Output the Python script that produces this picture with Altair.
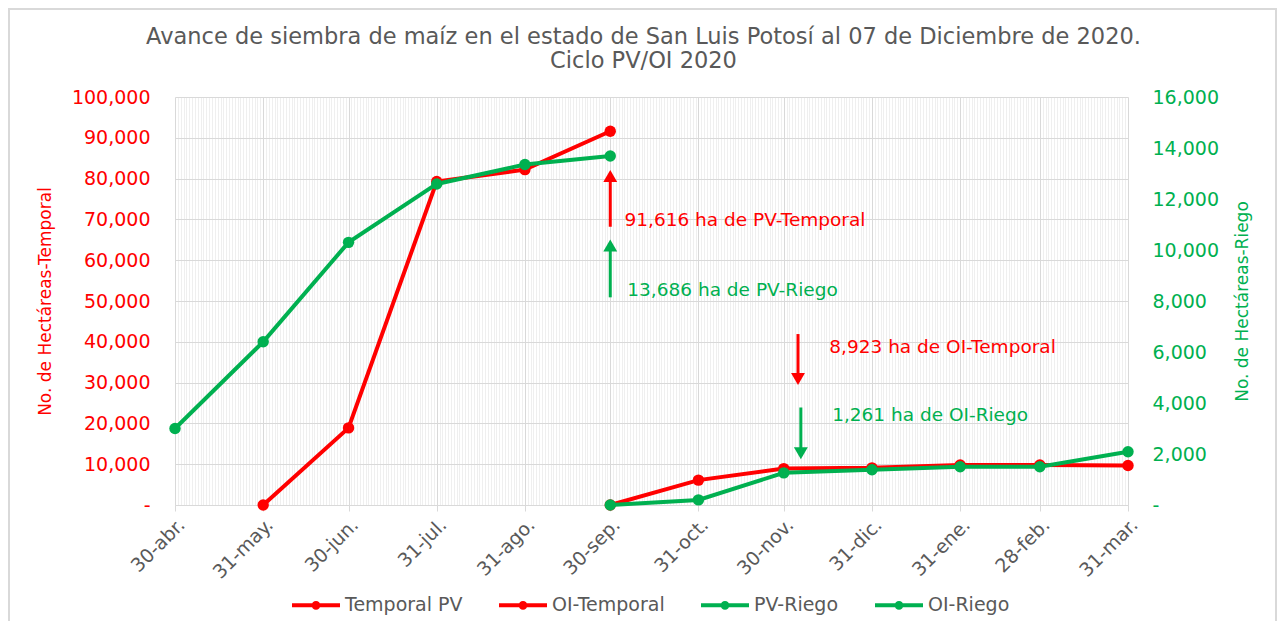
import altair as alt
import pandas as pd

RED = "#ff0000"
GREEN = "#00b050"
GRAY_TXT = "#595959"
FONT = "DejaVu Sans"

# ---------------- data ----------------
dates = ["2020-04-30", "2020-05-31", "2020-06-30", "2020-07-31", "2020-08-31", "2020-09-30",
         "2020-10-31", "2020-11-30", "2020-12-31", "2021-01-31", "2021-02-28", "2021-03-31"]
temporal_pv = [None, 0, 18900, 79300, 82200, 91616, None, None, None, None, None, None]
oi_temporal = [None, None, None, None, None, 0, 6100, 8923, 9100, 9800, 9800, 9700]
pv_riego = [3000, 6400, 10300, 12590, 13350, 13686, None, None, None, None, None, None]
oi_riego = [None, None, None, None, None, 0, 200, 1261, 1380, 1500, 1500, 2090]

series_names = ["Temporal PV", "OI-Temporal", "PV-Riego", "OI-Riego"]
series_colors = [RED, RED, GREEN, GREEN]

# annotations (left-axis units)
arrow_dates = ["2020-09-30", "2020-09-30", "2020-12-05", "2020-12-06"]
arrow_from = [68200, 50900, 41900, 23900]
arrow_to = [82100, 65100, 29400, 11200]
arrow_colors = [RED, GREEN, RED, GREEN]

note_dates = ["2020-10-05", "2020-10-06", "2020-12-16", "2020-12-17"]
note_values = [69900, 52700, 38700, 22100]
note_texts = ["91,616 ha de PV-Temporal", "13,686 ha de PV-Riego",
              "8,923 ha de OI-Temporal", "1,261 ha de OI-Riego"]
note_colors = [RED, GREEN, RED, GREEN]

month_abbr = ["ene.", "feb.", "mar.", "abr.", "may.", "jun.", "jul.", "ago.", "sep.", "oct.", "nov.", "dic."]

# ---------------- tables ----------------
rows = []
for name, vals in zip(series_names, [temporal_pv, oi_temporal, pv_riego, oi_riego]):
    for d, v in zip(dates, vals):
        if v is not None:
            rows.append({"date": d, "value": v, "serie": name})
df = pd.DataFrame(rows)
df_left = df[df["serie"].isin(["Temporal PV", "OI-Temporal"])]
df_right = df[df["serie"].isin(["PV-Riego", "OI-Riego"])]

arrow_rows = []
for d, a, b, c in zip(arrow_dates, arrow_from, arrow_to, arrow_colors):
    up = b > a
    shaft_end = b - 1500 if up else b + 1500
    arrow_rows.append({
        "date": d, "value": a, "value2": shaft_end, "tip": b, "c": c,
        "shape": "M0,0L0.58,1L-0.58,1Z" if up else "M0,0L0.58,-1L-0.58,-1Z",
    })
df_arrows = pd.DataFrame(arrow_rows)
df_notes = pd.DataFrame({"date": note_dates, "value": note_values, "label": note_texts, "c": note_colors})

# ---------------- axes / scales ----------------
MONTH_END = "utcdate(time(datum.value) + 86400000) == 1"
label_expr = (
    MONTH_END + " ? utcdate(datum.value) + '-' + "
    + "[" + ",".join("'%s'" % m for m in month_abbr) + "][utcmonth(datum.value)] : ''"
)
num_expr = "datum.value == 0 ? '-' : format(datum.value, ',')"

x_scale = alt.Scale(type="utc",
                    domain=[alt.DateTime(year=2020, month=4, date=30, utc=True),
                            alt.DateTime(year=2021, month=3, date=31, utc=True)])
x_axis = alt.Axis(
    title=None,
    tickCount={"interval": "day", "step": 1},
    grid=True,
    gridColor={"condition": {"test": MONTH_END, "value": "#d9d9d9"}, "value": "#efefef"},
    gridWidth=1,
    ticks=True,
    tickColor="#d9d9d9",
    tickOpacity={"condition": {"test": MONTH_END, "value": 1}, "value": 0},
    tickSize=6,
    domainColor="#d9d9d9",
    labelExpr=label_expr,
    labelAngle=-45,
    labelFontSize=19,
    labelColor=GRAY_TXT,
    labelOverlap=False,
    labelFlush=False,
    labelBound=False,
    labelPadding=4,
)

left_scale = alt.Scale(domain=[0, 100000])
left_axis = alt.Axis(
    title="No. de Hectáreas-Temporal",
    titleColor=RED, titleFontSize=17, titleFontWeight="normal", titlePadding=17,
    labelColor=RED, labelFontSize=19, labelPadding=25,
    labelExpr=num_expr,
    values=[0, 10000, 20000, 30000, 40000, 50000, 60000, 70000, 80000, 90000, 100000],
    grid=True, gridColor="#d9d9d9", ticks=False, domain=False,
)
right_scale = alt.Scale(domain=[0, 16000])
right_axis = alt.Axis(
    orient="right",
    title="No. de Hectáreas-Riego",
    titleColor=GREEN, titleFontSize=17, titleFontWeight="normal", titlePadding=16,
    titleAngle=270, titleBaseline="top",
    labelColor=GREEN, labelFontSize=19, labelPadding=24,
    labelExpr=num_expr,
    values=[0, 2000, 4000, 6000, 8000, 10000, 12000, 14000, 16000],
    grid=False, ticks=False, domain=False,
)

LEG_SYMBOL = "M-1,0L1,0M0.1,0A0.1,0.1 0 1 1 -0.1,0A0.1,0.1 0 1 1 0.1,0Z"
color_enc = alt.Color(
    "serie:N",
    scale=alt.Scale(domain=series_names, range=series_colors),
    legend=alt.Legend(
        orient="none", legendX=115, legendY=482, direction="horizontal", title=None,
        symbolType=LEG_SYMBOL, symbolSize=2304, symbolStrokeWidth=4,
        labelFontSize=19, labelColor=GRAY_TXT, labelOffset=3, columnPadding=28, padding=0,
    ),
)


def X():
    return alt.X("date:T", scale=x_scale, axis=x_axis)


def YL(field="value"):
    return alt.Y(field + ":Q", scale=left_scale, axis=left_axis)


def YR(field="value"):
    return alt.Y(field + ":Q", scale=right_scale, axis=right_axis)


# ---------------- layers ----------------
border = alt.Chart(alt.InlineData(values=[{"a": 1}])).mark_rect(
    fillOpacity=0, stroke="#d9d9d9", strokeWidth=2
).encode(x=alt.value(-166), x2=alt.value(1101), y=alt.value(-88), y2=alt.value(535))

red_line = alt.Chart(df_left).mark_line(strokeWidth=4).encode(
    x=X(), y=YL(), color=color_enc, detail="serie:N")
red_pts = alt.Chart(df_left).mark_circle(size=130, opacity=1).encode(
    x=X(), y=YL(), color=color_enc)

shafts = alt.Chart(df_arrows).mark_rule(strokeWidth=3).encode(
    x=X(), y=YL("value"), y2="value2:Q", stroke=alt.Stroke("c:N", scale=None))
heads = alt.Chart(df_arrows).mark_point(filled=True, size=576, opacity=1, strokeWidth=0).encode(
    x=X(), y=YL("tip"), fill=alt.Fill("c:N", scale=None), shape=alt.Shape("shape:N", scale=None))
notes = alt.Chart(df_notes).mark_text(align="left", baseline="middle", fontSize=18.5, font=FONT).encode(
    x=X(), y=YL("value"), text="label:N", fill=alt.Fill("c:N", scale=None))

left = alt.layer(red_line, red_pts, shafts, heads, notes)

green_line = alt.Chart(df_right).mark_line(strokeWidth=4).encode(
    x=X(), y=YR(), color=color_enc, detail="serie:N")
green_pts = alt.Chart(df_right).mark_circle(size=130, opacity=1).encode(
    x=X(), y=YR(), color=color_enc)
right = alt.layer(green_line, green_pts)

chart = alt.layer(border, left, right).resolve_scale(y="independent").properties(
    width=953,
    height=408,
    autosize=alt.AutoSizeParams(type="none"),
    padding={"left": 167, "top": 89, "right": 149, "bottom": 116},
    title=alt.TitleParams(
        text=["Avance de siembra de maíz en el estado de San Luis Potosí al 07 de Diciembre de 2020.",
              "Ciclo PV/OI 2020"],
        fontSize=22.5, color=GRAY_TXT, font=FONT, fontWeight="normal",
        anchor="middle", lineHeight=24, offset=-64, dx=-8,
    ),
).configure(font=FONT).configure_view(stroke=None)

chart.save("out.html", embed_options={"renderer": "svg", "actions": False})
